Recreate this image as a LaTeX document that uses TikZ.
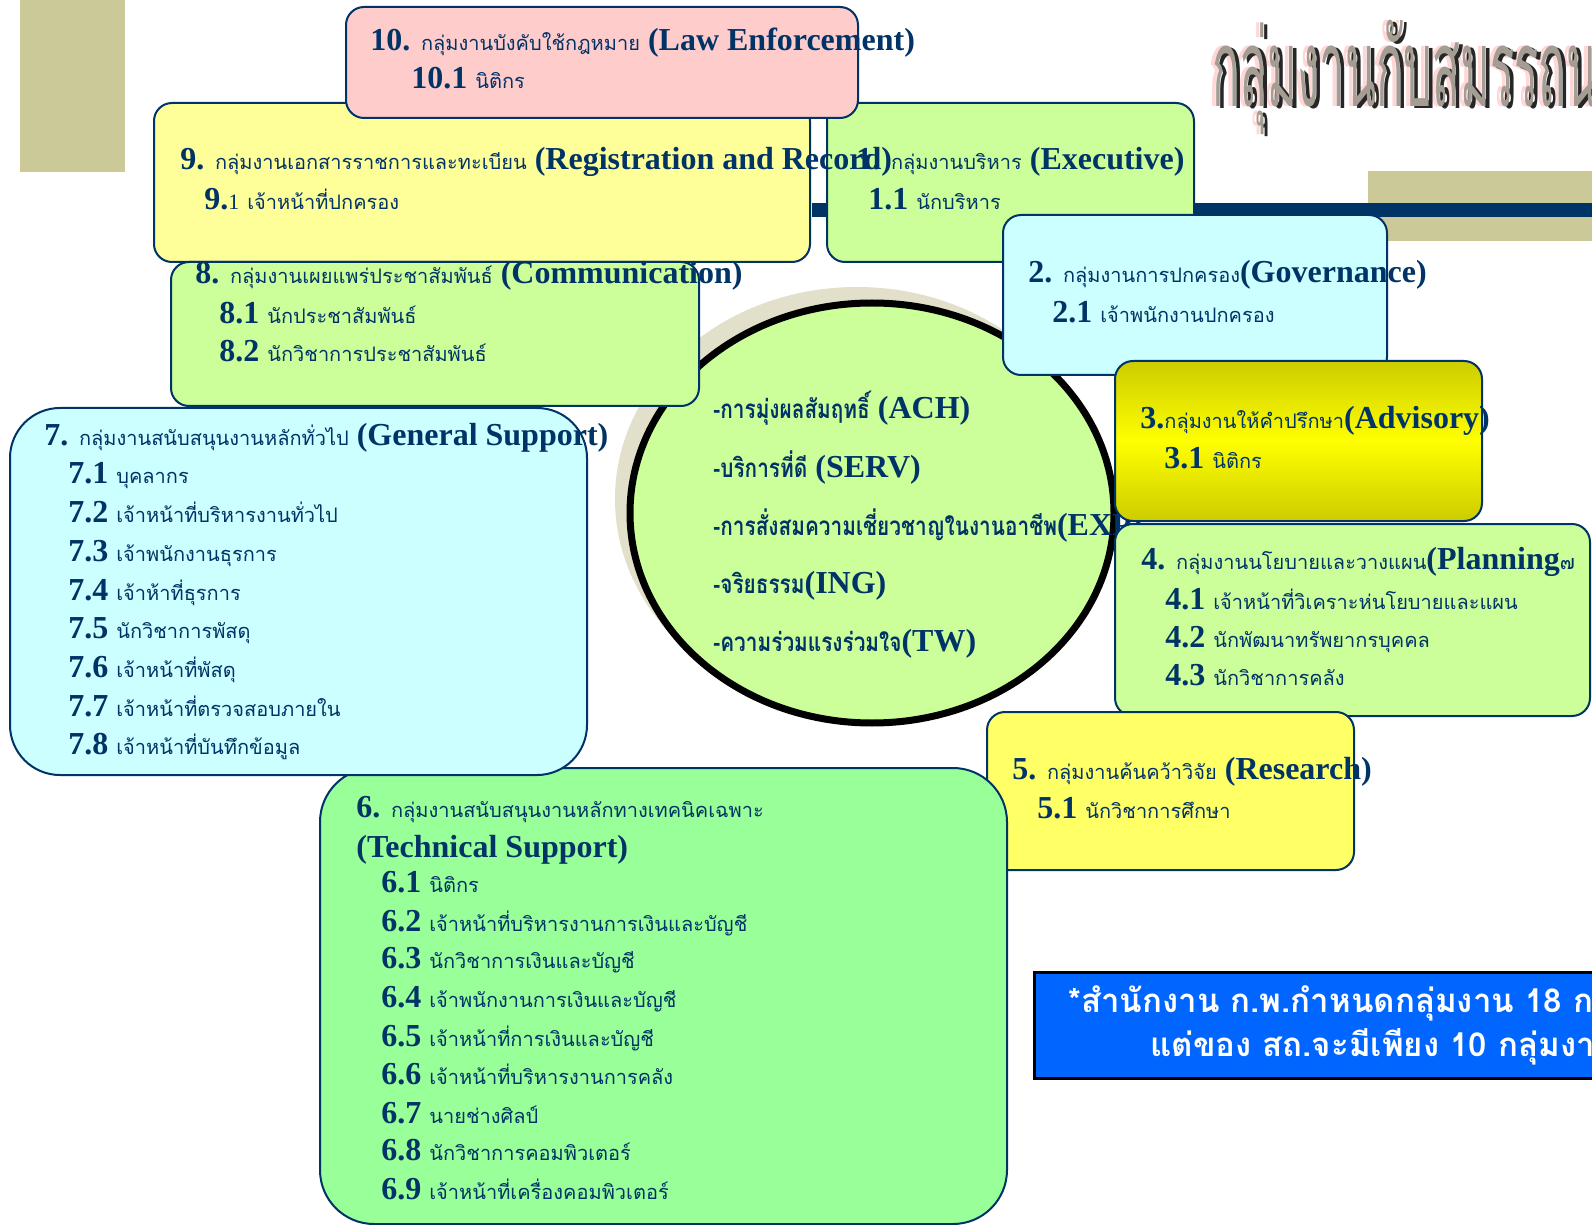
\documentclass[tikz,border=0pt]{standalone}
\usepackage{fontspec}
\setmainfont{Liberation Serif}
\newfontfamily\thaif[Script=Thai]{Loma}
\newfontfamily\thaicirc[Script=Thai,FakeStretch=0.8]{Loma}
\newfontfamily\thaititle[Script=Thai,FakeStretch=0.42]{Loma}
\definecolor{navy}{RGB}{0,51,102}
\definecolor{khaki}{RGB}{204,201,153}
\definecolor{pinkbox}{RGB}{255,204,204}
\definecolor{yelbox}{RGB}{255,255,153}
\definecolor{grnbox}{RGB}{204,255,153}
\definecolor{cyanbox}{RGB}{204,255,255}
\definecolor{resbox}{RGB}{255,255,102}
\definecolor{techbox}{RGB}{153,255,153}
\definecolor{olivey}{RGB}{204,204,0}
\definecolor{shadowc}{RGB}{226,223,203}
\definecolor{notebl}{RGB}{0,102,255}
\definecolor{titlepink}{RGB}{255,215,215}
\definecolor{titlegray}{RGB}{163,157,148}
\newcommand\tht[1]{{\thaif\mdseries\fontsize{10}{10}\selectfont #1}}
\newcommand\thb[1]{{\thaicirc\bfseries\fontsize{13}{13}\selectfont #1}}
\begin{document}
\begin{tikzpicture}[
  x=0.5pt, y=-0.5pt,
  box/.style={draw=navy, line width=1pt, rounded corners=9pt},
  bigbox/.style={draw=navy, line width=1pt, rounded corners=26pt},
  ln/.style={anchor=base west, inner sep=0pt, text=navy, font=\fontsize{16}{16}\selectfont\bfseries},
  ttl/.style={anchor=base west, inner sep=0pt, font=\thaititle\fontsize{54}{54}\selectfont},
  notetxt/.style={anchor=base west, inner sep=0pt, text=white, font=\thaif\bfseries\fontsize{16.5}{16.5}\selectfont}
]
\useasboundingbox (0,0) rectangle (1592,1225);
\clip (0,0) rectangle (1592,1225);
\fill[white] (0,0) rectangle (1592,1225);
% background decoration
\fill[khaki] (20,0) rectangle (125,172);
\fill[khaki] (1368,171) rectangle (1600,241);
\fill[navy] (812,203) rectangle (1600,217);
% title
\node[ttl, text=titlepink] (titA) at (1208,107) {กลุ่มงานกับสมรรถนะ};
\node[ttl, text=black!85] (titB) at (1216,109) {กลุ่มงานกับสมรรถนะ};
\node[ttl, text=titlegray] (titC) at (1212,107) {กลุ่มงานกับสมรรถนะ};
% central ellipse
\fill[shadowc] (857,499) ellipse [x radius=242, y radius=212];
\draw[black, line width=3.5pt, fill=grnbox] (872,513) ellipse [x radius=242, y radius=210];
\node[ln] (c1) at (713,419) {\thb{-การมุ่งผลสัมฤทธิ์} (ACH)};
\node[ln] (c2) at (713,478) {\thb{-บริการที่ดี} (SERV)};
\node[ln] (c3) at (713,536) {\thb{-การสั่งสมความเชี่ยวชาญในงานอาชีพ}(EXP)};
\node[ln] (c4) at (713,593) {\thb{-จริยธรรม}(ING)};
\node[ln] (c5) at (713,651) {\thb{-ความร่วมแรงร่วมใจ}(TW)};
% box 1
\path[box, fill=grnbox] (827,103) rectangle (1194,262);
\node[ln] (b1a) at (856,170) {1. \tht{กลุ่มงานบริหาร} (Executive)};
\node[ln] (b1b) at (868,210) {1.1 \tht{นักบริหาร}};
% box 9
\path[box, fill=yelbox] (154,103) rectangle (810,262);
\node[ln] (b9a) at (180,170) {9. \tht{กลุ่มงานเอกสารราชการและทะเบียน} (Registration and Record)};
\node[ln] (b9b) at (204,210) {9.{\mdseries\fontsize{11}{11}\selectfont 1} \tht{เจ้าหน้าที่ปกครอง}};
% box 10
\path[box, fill=pinkbox] (346,7) rectangle (858,118);
\node[ln] (b10a) at (370,51) {10. \tht{กลุ่มงานบังคับใช้กฎหมาย} (Law Enforcement)};
\node[ln] (b10b) at (411,89) {10.1 \tht{นิติกร}};
% box 8
\path[box, fill=grnbox] (171,262) rectangle (699,406);
\node[ln] (b8a) at (195,284) {8. \tht{กลุ่มงานเผยแพร่ประชาสัมพันธ์} (Communication)};
\node[ln] (b8b) at (219,324) {8.1 \tht{นักประชาสัมพันธ์}};
\node[ln] (b8c) at (219,362) {8.2 \tht{นักวิชาการประชาสัมพันธ์}};
% box 2
\path[box, fill=cyanbox] (1003,215) rectangle (1387,375);
\node[ln] (b2a) at (1028,283) {2. \tht{กลุ่มงานการปกครอง}(Governance)};
\node[ln] (b2b) at (1052,323) {2.1 \tht{เจ้าพนักงานปกครอง}};
% box 3
\shade[rounded corners=9pt, top color=olivey, bottom color=olivey, middle color=yellow] (1115,361) rectangle (1482,521);
\path[box] (1115,361) rectangle (1482,521);
\node[ln] (b3a) at (1140,429) {3.\tht{กลุ่มงานให้คำปรึกษา}(Advisory)};
\node[ln] (b3b) at (1164,468) {3.1 \tht{นิติกร}};
% box 4
\path[box, fill=grnbox] (1115,524) rectangle (1590,716);
\node[ln] (b4a) at (1141,569) {4. \tht{กลุ่มงานนโยบายและวางแผน}(Planning\tht{๗}};
\node[ln] (b4b) at (1165,609) {4.1 \tht{เจ้าหน้าที่วิเคราะห่นโยบายและแผน}};
\node[ln] (b4c) at (1165,647) {4.2 \tht{นักพัฒนาทรัพยากรบุคคล}};
\node[ln] (b4d) at (1165,685) {4.3 \tht{นักวิชาการคลัง}};
% box 5
\path[box, fill=resbox] (987,712) rectangle (1354,870);
\node[ln] (b5a) at (1012,779) {5. \tht{กลุ่มงานค้นคว้าวิจัย} (Research)};
\node[ln] (b5b) at (1037,818) {5.1 \tht{นักวิชาการศึกษา}};
% box 6
\path[bigbox, fill=techbox, rounded corners=27pt] (320,768) rectangle (1007,1224);
\node[ln] (b6a) at (356,817) {6. \tht{กลุ่มงานสนับสนุนงานหลักทางเทคนิคเฉพาะ}};
\node[ln] (b6b) at (356,857) {(Technical Support)};
\node[ln] (b61) at (381,892) {6.1 \tht{นิติกร}};
\node[ln] (b62) at (381,931) {6.2 \tht{เจ้าหน้าที่บริหารงานการเงินและบัญชี}};
\node[ln] (b63) at (381,968) {6.3 \tht{นักวิชาการเงินและบัญชี}};
\node[ln] (b64) at (381,1007) {6.4 \tht{เจ้าพนักงานการเงินและบัญชี}};
\node[ln] (b65) at (381,1046) {6.5 \tht{เจ้าหน้าที่การเงินและบัญชี}};
\node[ln] (b66) at (381,1084) {6.6 \tht{เจ้าหน้าที่บริหารงานการคลัง}};
\node[ln] (b67) at (381,1123) {6.7 \tht{นายช่างศิลป์}};
\node[ln] (b68) at (381,1160) {6.8 \tht{นักวิชาการคอมพิวเตอร์}};
\node[ln] (b69) at (381,1199) {6.9 \tht{เจ้าหน้าที่เครื่องคอมพิวเตอร์}};
% box 7
\path[bigbox, fill=cyanbox, rounded corners=25pt] (10,408) rectangle (587,775);
\node[ln] (b7a) at (44,445) {7. \tht{กลุ่มงานสนับสนุนงานหลักทั่วไป} (General Support)};
\node[ln] (b71) at (68,484) {7.1 \tht{บุคลากร}};
\node[ln] (b72) at (68,523) {7.2 \tht{เจ้าหน้าที่บริหารงานทั่วไป}};
\node[ln] (b73) at (68,561) {7.3 \tht{เจ้าพนักงานธุรการ}};
\node[ln] (b74) at (68,600) {7.4 \tht{เจ้าห้าที่ธุรการ}};
\node[ln] (b75) at (68,638) {7.5 \tht{นักวิชาการพัสดุ}};
\node[ln] (b76) at (68,677) {7.6 \tht{เจ้าหน้าที่พัสดุ}};
\node[ln] (b77) at (68,716) {7.7 \tht{เจ้าหน้าที่ตรวจสอบภายใน}};
\node[ln] (b78) at (68,754) {7.8 \tht{เจ้าหน้าที่บันทึกข้อมูล}};
% note
\path[fill=notebl, draw=black, line width=1.5pt] (1034,972) rectangle (1610,1078);
\node[notetxt] (n1) at (1068,1012) {*สำนักงาน ก.พ.กำหนดกลุ่มงาน 18 กลุ่มงาน};
\node[notetxt] (n2) at (1150,1056) {แต่ของ สถ.จะมีเพียง 10 กลุ่มงาน};
\end{tikzpicture}
\end{document}
